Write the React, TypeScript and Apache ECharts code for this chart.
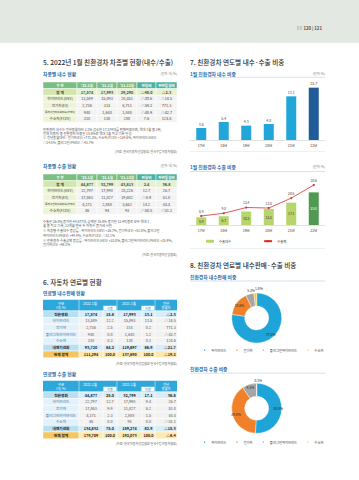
import React, { useEffect, useRef } from 'react';
import * as echarts from 'echarts';

const FONT = '"Noto Sans CJK KR","Noto Sans",sans-serif';

// ---------- chart data ----------
const years = ['17년', '18년', '19년', '20년', '21년', '22년'];
const domesticShare = [3.6, 5.4, 4.3, 4.8, 13.1, 15.7];
const exportVolumeShare = [5.9, 6.7, 10.3, 12.2, 17.1, 25.0];
const exportValueShare = [6.9, 9.0, 13.4, 13.0, 20.6, 30.6];
const fuelTypes = ['하이브리드', '전기차', '플러그인하이브리드', '수소차'];
const domesticByFuel = [13589, 2736, 940, 310];
const exportByFuel = [22797, 17863, 4171, 46];

// ---------- table 5 (차종별) ----------
const t5Header = ['구 분', "'22.1월", "'21.1월", "'21.12월", '전월비', '전년동월비'];
const t5Rows = ['합 계', '하이브리드(HEV)', '전기차(EV)', '플러그인하이브리드(PHEV)', '수소차(FCEV)'];
const domJan22 = ['17,574', '13,589', '2,736', '940', '310'];
const domJan21 = ['17,993', '15,893', '314', '1,640', '138'];
const domDec21 = ['29,290', '20,451', '6,711', '1,840', '288'];
const domMoM = ['△40.0', '△33.6', '△59.2', '△48.9', '7.6'];
const domYoY = ['△2.3', '△14.5', '771.3', '△42.7', '124.6'];
const expJan22 = ['44,877', '22,797', '17,863', '4,171', '46'];
const expJan21 = ['32,799', '17,990', '11,827', '2,888', '94'];
const expDec21 = ['43,813', '20,226', '19,602', '3,652', '93'];
const expMoM = ['2.4', '12.7', '△8.9', '14.2', '△50.5'];
const expYoY = ['36.8', '26.7', '51.0', '44.4', '△51.1'];

// ---------- table 6 (연료별) ----------
const t6Rows = ['친환경차', '하이브리드', '전기차', '플러그인하이브리드', '수소차', '내연기관차', '전체 합계'];
const fuelDomJan22 = ['17,574', '13,589', '2,736', '940', '310', '93,720', '111,294'];
const fuelDomJan22Share = ['15.8', '12.2', '2.5', '0.8', '0.3', '84.2', '100.0'];
const fuelDomJan21 = ['17,993', '15,893', '314', '1,640', '138', '119,697', '137,690'];
const fuelDomJan21Share = ['13.1', '11.5', '0.2', '1.2', '0.1', '86.9', '100.0'];
const fuelDomYoY = ['△2.3', '△14.5', '771.3', '△42.7', '124.6', '△21.7', '△19.2'];
const fuelExpJan22 = ['44,877', '22,797', '17,863', '4,171', '46', '134,832', '179,709'];
const fuelExpJan22Share = ['25.0', '12.7', '9.9', '2.3', '0.0', '75.0', '100.0'];
const fuelExpJan21 = ['32,799', '17,990', '11,827', '2,888', '94', '159,274', '192,073'];
const fuelExpJan21Share = ['17.1', '9.4', '6.2', '1.5', '0.0', '82.9', '100.0'];
const fuelExpYoY = ['36.8', '26.7', '51.0', '44.4', '△51.1', '△15.3', '△6.4'];

// ---------- notes ----------
const domNotes = [
  '친환경차 내수는 전년동월대비 2.3% 감소한 17,574대를 판매하였으며, 역대 1월 중 2위,',
  '전체 자동차 중 친환경차 비중은 15.8%로 역대 1월 최고 기록 달성',
  '※ 전년동월대비 : 전기차(EV) +771.3%, 수소차(FCEV) +124.6%, 하이브리드(HEV)',
  '△14.5%, 플러그인(PHEV) △42.7%',
];
const expNotes = [
  '수출은 36.8% 증가한 44,877대, 금액은 35.8% 증가한 13.4억불로 모두 역대 1',
  '월 중 최고 기록, 12개월 연속 두 자릿수 증가세 시현',
  '※ 차종별 수출대수 증감률 : 하이브리드(HEV) +26.7%, 전기차(EV) +51.0%, 플러그인',
  '하이브리드(PHEV) +44.4%, 수소차(FCEV) △51.1%',
  '※ 친환경차 수출금액 증감률 : 하이브리드(HEV) +23.0%, 플러그인하이브리드(PHEV) +35.9%,',
  '전기차(EV) +46.1%',
];

type El = Record<string, any>;

function rect(x: number, y: number, w: number, h: number, fill: string, stroke: string | null = '#ffffff', lw = 0.5): El {
  return { type: 'rect', shape: { x, y, width: w, height: h }, style: { fill, stroke, lineWidth: lw }, z: 10, silent: true };
}
function hline(x1: number, x2: number, y: number, color: string, lw = 0.6): El {
  return { type: 'line', shape: { x1, y1: y, x2, y2: y }, style: { stroke: color, lineWidth: lw }, z: 10, silent: true };
}
function text(x: number, y: number, s: string, size: number, color: string, align = 'center', weight = 'normal'): El {
  return {
    type: 'text', x, y, z: 11, silent: true,
    style: { text: s, fontSize: size, fontFamily: FONT, fontWeight: weight, fill: color, align, verticalAlign: 'middle', textAlign: align, textVerticalAlign: 'middle' },
  };
}
function emWidth(s: string) {
  let w = 0;
  for (const ch of s) {
    if (/[\uac00-\ud7a3]/.test(ch)) w += 1;
    else if (/[0-9]/.test(ch)) w += 0.56;
    else if (/[A-Z]/.test(ch)) w += 0.66;
    else if (ch === ' ') w += 0.3;
    else w += 0.36;
  }
  return w;
}
function fit(s: string, w: number, base: number) {
  return Math.min(base, (w - 1.5) / emWidth(s));
}

const T5_X = [43, 77, 97, 117, 137, 156, 177];
function typeTable(y0: number, cols: string[][]): El[] {
  const els: El[] = [];
  const h = 6.7;
  for (let c = 0; c < 6; c++) {
    const x = T5_X[c], w = T5_X[c + 1] - x;
    els.push(rect(x, y0, w, h, c >= 4 ? '#4cb3a0' : '#78bf81'));
    els.push(text(x + w / 2, y0 + h / 2, t5Header[c], fit(t5Header[c], w, 3.6), '#ffffff', 'center', 'bold'));
  }
  t5Rows.forEach((lab, r) => {
    const y = y0 + h * (r + 1);
    const total = r === 0;
    for (let c = 0; c < 6; c++) {
      const x = T5_X[c], w = T5_X[c + 1] - x;
      const fill = c === 0 ? (total ? '#d3e6ad' : '#eef4d7') : (total ? '#e7f0cf' : '#f3f3f3');
      els.push(rect(x, y, w, h, fill));
      const s = c === 0 ? lab : cols[c - 1][r];
      els.push(text(x + w / 2, y + h / 2, s, c === 0 ? fit(s, w, 3.6) : 3.8, c === 0 ? '#3a3a3a' : '#4a4a4a', 'center', total ? 'bold' : 'normal'));
    }
  });
  return els;
}

const T6_X = [43, 79, 103, 117, 142, 155, 177];
function fuelTable(y0: number, cols: string[][]): El[] {
  const els: El[] = [];
  const hH = 11, rH = 6.7, blue = '#2ea7db';
  els.push(rect(43, y0, 134, hH, blue, null, 0));
  [79, 117, 155].forEach((x) => els.push({ type: 'line', shape: { x1: x, y1: y0, x2: x, y2: y0 + hH }, style: { stroke: '#ffffff', lineWidth: 0.5 }, z: 10, silent: true }));
  els.push(rect(103.3, y0 + 6, 13.2, 4.6, '#ffffff', '#7fc6e8', 0.3));
  els.push(rect(141.3, y0 + 6, 13.2, 4.6, '#ffffff', '#7fc6e8', 0.3));
  els.push(text(61, y0 + 3.2, '구분', 3.5, '#ffffff'));
  els.push(text(61, y0 + 7.6, '(대, %)', 3.3, '#ffffff'));
  els.push(text(90, y0 + 3.6, '2022.1월', 3.5, '#ffffff'));
  els.push(text(129, y0 + 3.6, '2021.1월', 3.5, '#ffffff'));
  els.push(text(110, y0 + 8.3, '비중', 3.1, '#3d8fbf'));
  els.push(text(148, y0 + 8.3, '비중', 3.1, '#3d8fbf'));
  els.push(text(166, y0 + 3.3, '전년', 3.3, '#ffffff'));
  els.push(text(166, y0 + 7.6, '동월비', 3.3, '#ffffff'));
  t6Rows.forEach((lab, r) => {
    const y = y0 + hH + rH * r;
    const kind = r === 0 || r === 5 ? 'main' : r === 6 ? 'total' : 'sub';
    for (let c = 0; c < 6; c++) {
      const x = T6_X[c], w = T6_X[c + 1] - x;
      let fill: string;
      if (c === 0) fill = kind === 'main' ? '#b9dff3' : kind === 'total' ? '#f6c55e' : '#e3f1fa';
      else fill = kind === 'main' ? '#d8edf8' : kind === 'total' ? '#fde9b1' : '#f2f2f2';
      els.push(rect(x, y, w, rH, fill));
      const s = c === 0 ? lab : cols[c - 1][r];
      const weight = kind === 'sub' ? 'normal' : 'bold';
      const color = c === 0 ? (kind === 'sub' ? '#41729c' : '#1e1e1e') : kind === 'sub' ? '#555555' : '#222222';
      if (c === 5) els.push(text(x + w - 1.2, y + rH / 2, s, 3.8, color, 'right', weight));
      else els.push(text(x + w / 2, y + rH / 2, s, c === 0 ? fit(s, w, 3.7) : 3.8, color, 'center', weight));
    }
  });
  return els;
}

function buildGraphics(): El[] {
  const g: El[] = [];
  // page header band
  g.push(rect(0, 0, 359, 42.7, '#e3e8e2', null, 0));
  g.push(text(297, 28.3, 'EV', 4.3, '#8c918c', 'left'));
  g.push(text(303.5, 28.3, '120 | 121', 4.3, '#4d524d', 'left', 'bold'));

  // left column
  g.push(text(43, 61.7, '5. 2022년 1월 친환경차 차종별 현황(내수/수출)', 6.6, '#2a2a2a', 'left', '500'));
  g.push(text(43, 73, '차종별 내수 현황', 4.8, '#1f6fae', 'left', 'bold'));
  g.push(text(177, 73, '(단위: 대, %)', 3.1, '#777777', 'right'));
  g.push(...typeTable(82, [domJan22, domJan21, domDec21, domMoM, domYoY]));
  domNotes.forEach((s, i) => g.push(text(43, 129.5 + i * 4.2, s, 3.3, '#555555', 'left')));
  g.push(text(177, 151, '(자료: 한국자동차산업협회, 한국수입자동차협회)', 3.1, '#666666', 'right'));

  g.push(text(43, 165.5, '차종별 수출 현황', 4.8, '#1f6fae', 'left', 'bold'));
  g.push(text(177, 165.5, '(단위: 대, %)', 3.1, '#777777', 'right'));
  g.push(...typeTable(174, [expJan22, expJan21, expDec21, expMoM, expYoY]));
  expNotes.forEach((s, i) => g.push(text(43, 221 + i * 4.3 + (i >= 2 ? 1.2 : 0) + (i >= 4 ? 1.2 : 0), s, 3.3, '#555555', 'left')));
  g.push(text(177, 254, '(자료: 한국자동차산업협회)', 3.1, '#666666', 'right'));

  g.push(text(43, 282, '6. 자동차 연료별 현황', 6.6, '#2a2a2a', 'left', '500'));
  g.push(text(43, 292.6, '연료별 내수판매 현황', 4.8, '#1f6fae', 'left', 'bold'));
  g.push(...fuelTable(299.8, [fuelDomJan22, fuelDomJan22Share, fuelDomJan21, fuelDomJan21Share, fuelDomYoY]));
  g.push(text(177, 363, '(자료: 한국자동차산업협회 한국수입자동차협회)', 3.1, '#666666', 'right'));
  g.push(text(43, 373, '연료별 수출 현황', 4.8, '#1f6fae', 'left', 'bold'));
  g.push(...fuelTable(380.8, [fuelExpJan22, fuelExpJan22Share, fuelExpJan21, fuelExpJan21Share, fuelExpYoY]));
  g.push(text(177, 443, '(자료: 한국자동차산업협회 한국수입자동차협회)', 3.1, '#666666', 'right'));

  // right column
  g.push(text(190, 61.7, '7. 친환경차 연도별 내수·수출 비중', 6.6, '#2a2a2a', 'left', '500'));
  g.push(text(190, 73, '1월 친환경차 내수 비중', 4.8, '#1f6fae', 'left', 'bold'));
  g.push(text(325, 73, '(단위: %)', 3.1, '#777777', 'right'));
  g.push(hline(190, 325, 77.3, '#b7cfe0'));
  g.push(hline(190, 325, 151.5, '#d5e3ec', 0.5));
  g.push(text(190, 166.3, '1월 친환경차 수출 비중', 4.8, '#1f6fae', 'left', 'bold'));
  g.push(text(325, 166.3, '(단위: %)', 3.1, '#777777', 'right'));
  g.push(hline(190, 325, 171.5, '#b7cfe0'));
  g.push(hline(190, 325, 248.5, '#d5e3ec', 0.5));

  g.push(text(190, 265, '8. 친환경차 연료별 내수판매·수출 비중', 6.6, '#2a2a2a', 'left', '500'));
  g.push(text(190, 276.5, '친환경차 내수판매 비중', 4.8, '#1f6fae', 'left', 'bold'));
  g.push(hline(190, 325, 281, '#b7cfe0'));
  g.push(text(190, 368.5, '친환경차 수출 비중', 4.8, '#1f6fae', 'left', 'bold'));
  g.push(hline(190, 325, 373.2, '#b7cfe0'));
  return g;
}

const pieColors = ['#1fa4d9', '#f0802a', '#a5a5a5', '#f1cf2b'];

export default function App() {
  const ref = useRef<HTMLDivElement>(null);
  useEffect(() => {
    if (!ref.current) return;
    const chart = echarts.init(ref.current, undefined, { renderer: 'svg' });
    const axisLabel = { fontSize: 3.5, color: '#404040', fontFamily: FONT };
    const pieBase = {
      type: 'pie',
      radius: [12, 25],
      startAngle: 90,
      clockwise: true,
      avoidLabelOverlap: false,
      percentPrecision: 1,
      label: { show: true, formatter: '{d}%', fontSize: 3.3, color: '#262626', fontFamily: FONT, distanceToLabelLine: 0.5 },
      labelLine: { show: false, length: 2, length2: 0 },
      itemStyle: { borderColor: '#ffffff', borderWidth: 0.4 },
    };
    const pieLegend = { padding: 0, icon: 'rect', itemWidth: 3.2, itemHeight: 3.2, itemGap: 8, textStyle: { fontSize: 3.3, color: '#404040', fontFamily: FONT } };
    const option: any = {
      animation: false,
      backgroundColor: '#ffffff',
      textStyle: { fontFamily: FONT },
      grid: [
        { left: 190, top: 80, width: 135, height: 60 },
        { left: 190, top: 179.3, width: 135, height: 45.7 },
      ],
      xAxis: [
        { type: 'category', gridIndex: 0, data: years, axisLine: { lineStyle: { color: '#cfcfcf', width: 0.6 } }, axisTick: { show: false }, axisLabel: { ...axisLabel, margin: 4.2 } },
        { type: 'category', gridIndex: 1, data: years, axisLine: { lineStyle: { color: '#cfcfcf', width: 0.6 } }, axisTick: { show: false }, axisLabel: { ...axisLabel, margin: 3.5 } },
      ],
      yAxis: [
        { type: 'value', gridIndex: 0, min: 0, max: 18, show: false },
        { type: 'value', gridIndex: 1, min: 0, max: 35, show: false },
      ],
      legend: [
        { data: ['수출대수', '수출액'], left: 206, top: 239.5, padding: 0, itemWidth: 8, itemHeight: 3, itemGap: 32, textStyle: { fontSize: 3.3, color: '#404040', fontFamily: FONT } },
        { ...pieLegend, data: fuelTypes, left: 202, top: 347.5 },
        { ...pieLegend, data: fuelTypes, left: 202, top: 439.5 },
      ],
      series: [
        {
          type: 'bar', name: '내수 비중', xAxisIndex: 0, yAxisIndex: 0, barWidth: 10,
          data: domesticShare.map((v, i) => ({ value: v, itemStyle: { color: i === domesticShare.length - 1 ? '#1f5c98' : '#21a6da' } })),
          label: { show: true, position: 'top', distance: 2, fontSize: 3.5, color: '#404040', fontFamily: FONT, formatter: (p: any) => Number(p.value).toFixed(1) },
        },
        {
          type: 'bar', name: '수출대수', xAxisIndex: 1, yAxisIndex: 1, barWidth: 10,
          itemStyle: { color: '#b6d56b' },
          data: exportVolumeShare.map((v, i) => i === exportVolumeShare.length - 1
            ? { value: v, itemStyle: { color: '#4f9a50' }, label: { color: '#ffffff' } }
            : { value: v }),
          label: { show: true, position: 'inside', fontSize: 3.3, color: '#333333', fontFamily: FONT, formatter: (p: any) => Number(p.value).toFixed(1) },
        },
        {
          type: 'line', name: '수출액', xAxisIndex: 1, yAxisIndex: 1,
          data: exportValueShare,
          itemStyle: { color: '#d9312b' },
          lineStyle: { color: '#d9312b', width: 0.8 },
          symbol: 'circle', symbolSize: 2.2,
          label: { show: true, position: 'top', distance: 2, fontSize: 3.3, color: '#404040', fontFamily: FONT, formatter: (p: any) => Number(p.value).toFixed(1) },
        },
        {
          ...pieBase, name: '내수판매', center: [256.7, 318],
          data: fuelTypes.map((n, i) => ({ name: n, value: domesticByFuel[i], itemStyle: { color: pieColors[i] }, label: { position: i < 2 ? 'inside' : 'outside' } })),
          labelLayout: (p: any) => (p.dataIndex === 2 ? { dx: 6, dy: -2 } : p.dataIndex === 3 ? { dx: 8, dy: -2.5 } : {}),
        },
        {
          ...pieBase, name: '수출', center: [256.7, 408.3],
          data: fuelTypes.map((n, i) => ({ name: n, value: exportByFuel[i], itemStyle: { color: pieColors[i] }, label: { position: i < 3 ? 'inside' : 'outside' } })),
          labelLayout: (p: any) => (p.dataIndex === 3 ? { dx: 6, dy: -0.5 } : {}),
        },
      ],
      graphic: { elements: buildGraphics() },
    };
    chart.setOption(option);
    return () => chart.dispose();
  }, []);
  return <div ref={ref} style={{ position: 'absolute', left: 0, top: 0, width: 359, height: 480, background: '#ffffff' }} />;
}
